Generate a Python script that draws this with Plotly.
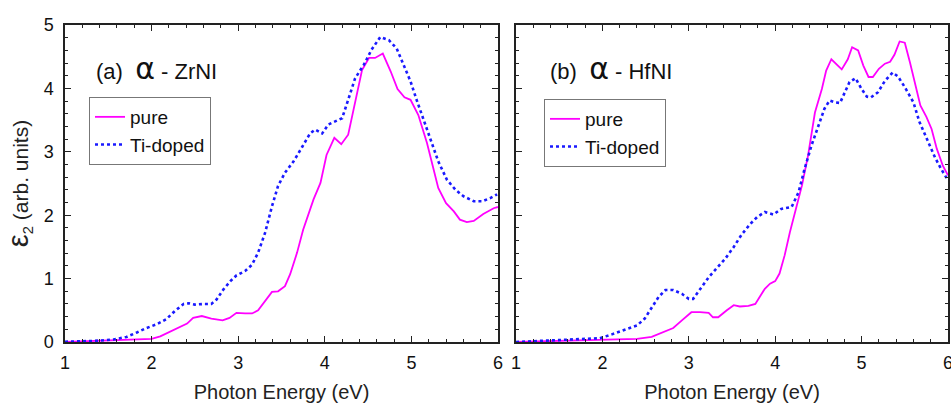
import plotly.graph_objects as go

# ---- data ----
zr_pure_x = [1.0, 1.7, 2.0, 2.1, 2.21, 2.33, 2.41, 2.48, 2.58, 2.69, 2.82, 2.9, 2.98, 3.08, 3.16, 3.23, 3.31, 3.39,
             3.46, 3.54, 3.6, 3.68, 3.75, 3.87, 3.95, 4.02, 4.11, 4.19, 4.27, 4.33, 4.43, 4.51, 4.58, 4.67, 4.76,
             4.84, 4.92, 4.99, 5.08, 5.18, 5.31, 5.4, 5.49, 5.56, 5.64, 5.72, 5.83, 5.95, 6.0]
zr_pure_y = [0.0, 0.03, 0.05, 0.09, 0.16, 0.23, 0.29, 0.38, 0.41, 0.37, 0.34, 0.38, 0.46, 0.45, 0.45, 0.5, 0.65, 0.79,
             0.8, 0.88, 1.07, 1.41, 1.77, 2.25, 2.51, 2.95, 3.22, 3.12, 3.27, 3.66, 4.29, 4.48, 4.48, 4.55, 4.27,
             3.99, 3.86, 3.82, 3.58, 3.14, 2.43, 2.19, 2.06, 1.93, 1.89, 1.91, 2.02, 2.11, 2.13]

zr_ti_x = [1.0, 1.33, 1.56, 1.71, 1.83, 1.94, 2.06, 2.17, 2.27, 2.37, 2.43, 2.5, 2.6, 2.69, 2.75, 2.83, 2.91, 2.98,
           3.08, 3.16, 3.23, 3.31, 3.39, 3.46, 3.54, 3.64, 3.74, 3.83, 3.89, 3.97, 4.04, 4.12, 4.2, 4.27, 4.35,
           4.45, 4.54, 4.64, 4.74, 4.83, 4.91, 4.99, 5.06, 5.14, 5.22, 5.31, 5.41, 5.51, 5.6, 5.72, 5.82, 5.91, 5.99]
zr_ti_y = [0.005, 0.016, 0.04, 0.08, 0.15, 0.22, 0.28, 0.36, 0.49, 0.6, 0.61, 0.59, 0.6, 0.6, 0.67, 0.83, 0.96, 1.05,
           1.12, 1.22, 1.41, 1.72, 2.14, 2.46, 2.67, 2.85, 3.08, 3.29, 3.35, 3.29, 3.43, 3.48, 3.53, 3.82, 4.16,
           4.37, 4.61, 4.81, 4.76, 4.63, 4.37, 4.11, 3.82, 3.5, 3.19, 2.85, 2.56, 2.4, 2.3, 2.22, 2.22, 2.27, 2.33]

hf_pure_x = [1.0, 1.97, 2.4, 2.57, 2.71, 2.82, 2.92, 3.03, 3.13, 3.23, 3.28, 3.34, 3.44, 3.52, 3.59, 3.69, 3.77,
             3.82, 3.88, 3.94, 4.0, 4.05, 4.11, 4.17, 4.23, 4.31, 4.38, 4.46, 4.54, 4.59, 4.65, 4.72, 4.77, 4.84,
             4.89, 4.96, 5.02, 5.08, 5.13, 5.2, 5.27, 5.33, 5.38, 5.44, 5.5, 5.56, 5.63, 5.68, 5.75, 5.81, 5.87,
             5.94, 6.0]
hf_pure_y = [0.0, 0.03, 0.05, 0.08, 0.16, 0.22, 0.34, 0.47, 0.47, 0.46, 0.39, 0.39, 0.5, 0.58, 0.56, 0.57, 0.6,
             0.71, 0.84, 0.92, 0.96, 1.08, 1.37, 1.73, 2.05, 2.47, 2.94, 3.62, 3.99, 4.28, 4.46, 4.36, 4.3, 4.46,
             4.65, 4.6, 4.36, 4.18, 4.18, 4.31, 4.39, 4.42, 4.53, 4.74, 4.72, 4.41, 4.02, 3.73, 3.55, 3.36, 3.05,
             2.78, 2.63]

hf_ti_x = [1.0, 1.4, 1.78, 1.97, 2.11, 2.24, 2.4, 2.49, 2.57, 2.65, 2.73, 2.82, 2.92, 3.0, 3.05, 3.13, 3.23, 3.32,
           3.42, 3.52, 3.61, 3.71, 3.79, 3.88, 3.98, 4.07, 4.19, 4.27, 4.34, 4.42, 4.5, 4.57, 4.63, 4.69, 4.75,
           4.81, 4.86, 4.93, 5.0, 5.06, 5.11, 5.19, 5.27, 5.36, 5.42, 5.5, 5.6, 5.67, 5.77, 5.85, 5.92, 6.0]
hf_ti_y = [0.0, 0.02, 0.04, 0.06, 0.12, 0.18, 0.26, 0.37, 0.53, 0.71, 0.82, 0.82, 0.76, 0.68, 0.68, 0.84, 1.02,
           1.16, 1.31, 1.5, 1.69, 1.86, 1.97, 2.05, 2.01, 2.1, 2.13, 2.36, 2.73, 3.1, 3.41, 3.68, 3.81, 3.78, 3.77,
           3.94, 4.1, 4.16, 3.99, 3.87, 3.86, 3.94, 4.12, 4.25, 4.19, 4.02, 3.78, 3.47, 3.15, 2.91, 2.73, 2.55]

x_ticks = [1, 2, 3, 4, 5, 6]
y_ticks = [0, 1, 2, 3, 4, 5]
series_names = ["pure", "Ti-doped"]
ALPHA = "<span style='font-family:DejaVu Sans;font-size:30px'>\u03b1</span>"
panel_labels = ["(a)  " + ALPHA + " - ZrNI", "(b)  " + ALPHA + " - HfNI"]

PURE_COLOR = "#ff00ff"
TI_COLOR = "#1a1aff"
AX_COLOR = "#222222"
FONT = "Liberation Sans, Arial, sans-serif"

fig = go.Figure()

fig.add_trace(go.Scatter(x=zr_pure_x, y=zr_pure_y, mode="lines", name=series_names[0],
                         line=dict(color=PURE_COLOR, width=1.8), xaxis="x", yaxis="y", legend="legend"))
fig.add_trace(go.Scatter(x=zr_ti_x, y=zr_ti_y, mode="lines", name=series_names[1],
                         line=dict(color=TI_COLOR, width=2.6, dash="dot"), xaxis="x", yaxis="y", legend="legend"))
fig.add_trace(go.Scatter(x=hf_pure_x, y=hf_pure_y, mode="lines", name=series_names[0],
                         line=dict(color=PURE_COLOR, width=1.8), xaxis="x2", yaxis="y2", legend="legend2"))
fig.add_trace(go.Scatter(x=hf_ti_x, y=hf_ti_y, mode="lines", name=series_names[1],
                         line=dict(color=TI_COLOR, width=2.6, dash="dot"), xaxis="x2", yaxis="y2", legend="legend2"))

L, R, T, B = 65, 3, 25, 61
W, H = 951, 403
pw = W - L - R
ph = H - T - B
left_dom = [0, (498 - L) / pw]
right_dom = [(516 - L) / pw, 1]

common_x = dict(range=[1, 6], tickvals=x_ticks, ticks="inside", ticklen=6, tickwidth=1.3, tickcolor=AX_COLOR,
                showline=True, linecolor=AX_COLOR, linewidth=1.5, mirror="allticks", showgrid=False, zeroline=False,
                minor=dict(dtick=0.2, ticks="inside", ticklen=3, tickwidth=1.2, tickcolor=AX_COLOR, showgrid=False),
                tickfont=dict(family=FONT, size=18, color="#111111"), ticklabelstandoff=4,
                ticklabeloverflow="allow",
                title=dict(text="Photon Energy (eV)", font=dict(family=FONT, size=20, color="#222222"), standoff=14))
common_y = dict(range=[0, 5], tickvals=y_ticks, ticks="inside", ticklen=6, tickwidth=1.3, tickcolor=AX_COLOR,
                showline=True, linecolor=AX_COLOR, linewidth=1.5, mirror="allticks", showgrid=False, zeroline=False,
                minor=dict(dtick=0.2, ticks="inside", ticklen=3, tickwidth=1.2, tickcolor=AX_COLOR, showgrid=False),
                tickfont=dict(family=FONT, size=18, color="#111111"))

legend_common = dict(xanchor="left", yanchor="top", bgcolor="white", bordercolor="#777777", borderwidth=1,
                     font=dict(family=FONT, size=19, color="#111111"), tracegroupgap=0, itemwidth=30)

fig.update_layout(
    width=W, height=H,
    margin=dict(l=L, r=R, t=T, b=B, autoexpand=False),
    paper_bgcolor="white", plot_bgcolor="white",
    xaxis=dict(domain=left_dom, anchor="y", **common_x),
    xaxis2=dict(domain=right_dom, anchor="y2", **common_x),
    yaxis=dict(domain=[0, 1], anchor="x", ticklabelstandoff=6, **common_y,
               title=dict(text="<span style='font-size:29px'>\u03b5</span><sub>2</sub> (arb. units)",
                          font=dict(family=FONT, size=21, color="#222222"), standoff=9)),
    yaxis2=dict(domain=[0, 1], anchor="x2", showticklabels=False, **common_y),
    legend=dict(x=(89 - L) / pw, y=1 - (97 - T) / ph, **legend_common),
    legend2=dict(x=(544 - L) / pw, y=1 - (99 - T) / ph, **legend_common),
    showlegend=True,
    annotations=[
        dict(text=panel_labels[0], xref="paper", yref="paper", x=(94 - L) / pw, y=1 - (68 - T) / ph,
             xanchor="left", yanchor="middle", showarrow=False, font=dict(family=FONT, size=22, color="#111111")),
        dict(text=panel_labels[1], xref="paper", yref="paper", x=(548 - L) / pw, y=1 - (68 - T) / ph,
             xanchor="left", yanchor="middle", showarrow=False, font=dict(family=FONT, size=22, color="#111111")),
    ],
)

fig.write_html("out.html", config={"displayModeBar": False},
               post_script="document.body.style.margin='0px';document.body.style.overflow='hidden';")
